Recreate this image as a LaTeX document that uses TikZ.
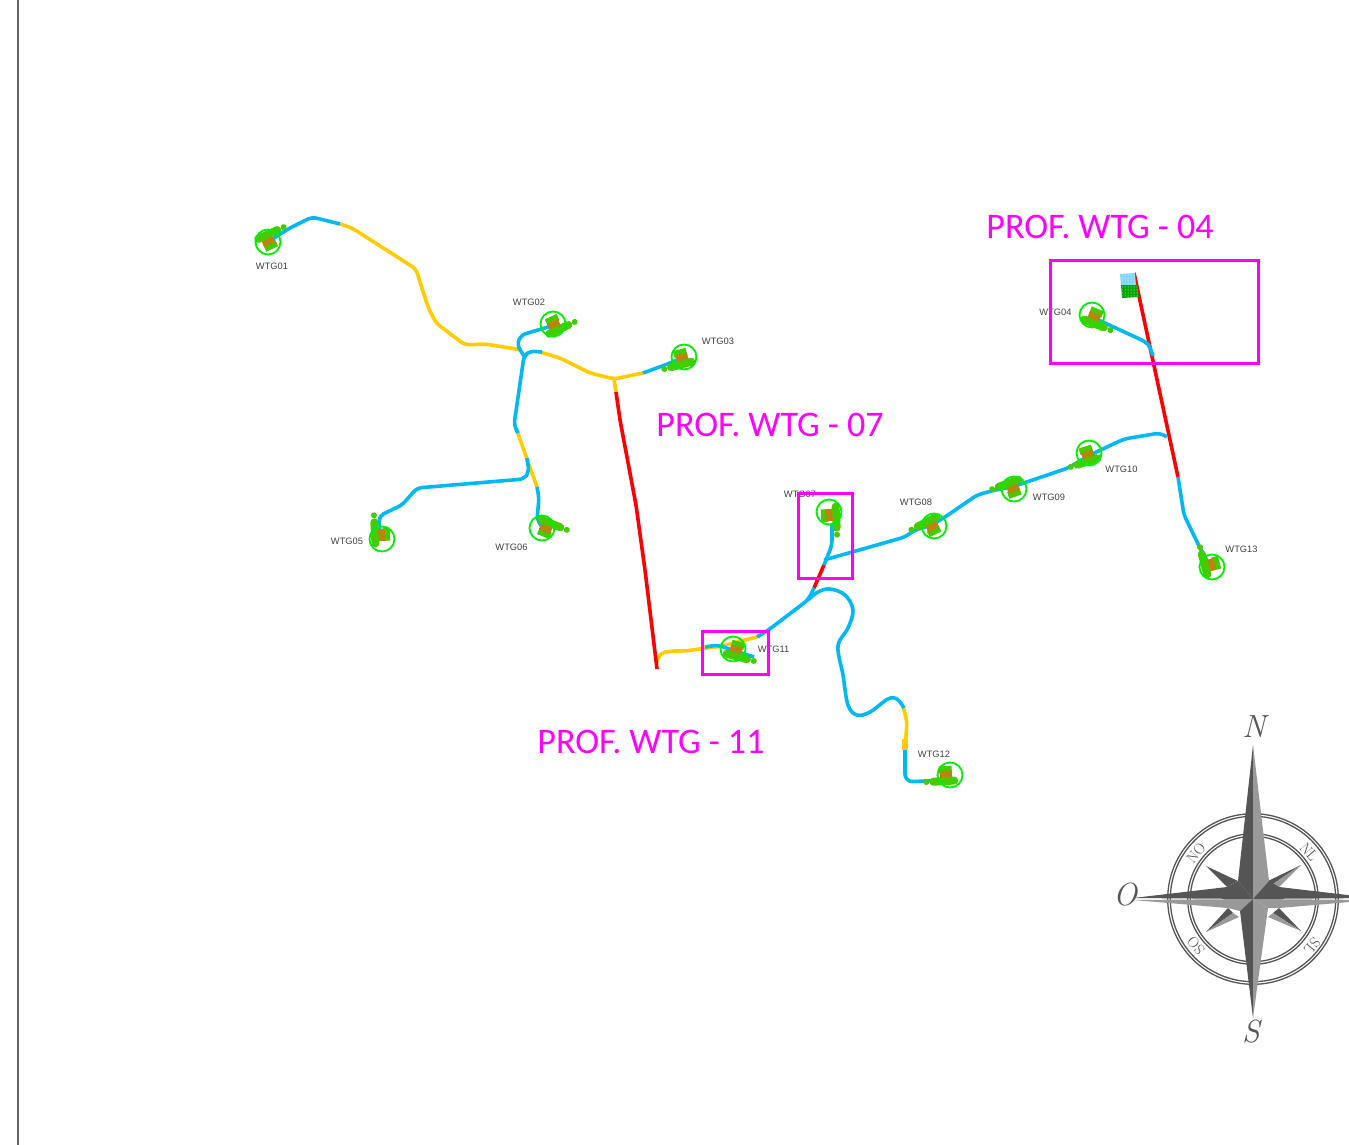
\documentclass[tikz,border=0pt]{standalone}
\usepackage{fontspec}
\setmainfont{Liberation Sans}
\newfontfamily\calibrifont{Carlito}
\newfontfamily\compassfont{Latin Modern Roman}
\usetikzlibrary{patterns}
\definecolor{cableblue}{HTML}{00B9F2}
\definecolor{cableyellow}{HTML}{FFCC00}
\definecolor{padgreen}{HTML}{44CC00}
\definecolor{padbrown}{HTML}{B8860B}
\definecolor{ringgreen}{HTML}{00EE00}
\definecolor{profmagenta}{HTML}{FF00FF}
\definecolor{compassdark}{HTML}{555555}
\definecolor{compasslight}{HTML}{999999}
\tikzset{
    cable/.style={line width=3.6pt, rounded corners=5pt, line join=round},
    bluecable/.style={cable, cableblue},
    yellowcable/.style={cable, cableyellow},
    redcable/.style={cable, red},
    profbox/.style={draw=profmagenta, line width=3pt},
    proflabel/.style={text=profmagenta, font=\calibrifont\fontsize{36}{38}\selectfont},
    wtglabel/.style={text=black!75, font=\fontsize{9.3}{11}\selectfont},
    windrose/.style={text=compassdark, font=\compassfont\itshape\fontsize{32}{34}\selectfont},
    roselabel/.style={text=compassdark, font=\compassfont\fontsize{15}{16}\selectfont}
}

\begin{document}
\begin{tikzpicture}[x=1pt, y=-1pt]
            \useasboundingbox (0,0) rectangle (1349,1145);

            % sheet edge
            \draw[gray!80!black, line width=1.5pt] (18,0)--(18,1145);

            % yellow runs
            \draw[yellowcable] (340,224)--(352,228)--(416,269)--(421,285)--(428,307)--(436,323)--(465,345)--(485,344)--(522,350);
            \draw[yellowcable] (540,352)--(560,358)--(590,373)--(614,379)--(643,373);
            \draw[yellowcable, rounded corners=0pt] (614,379)--(616,392);
            \draw[yellowcable] (657,662)--(660,653)--(672,651)--(685,651)--(722,646)--(745,640)--(757,637);
            \draw[yellowcable] (516,428)--(527,459)--(537,487);
            \draw[yellowcable] (903,706)--(907,722)--(905,750);
            \draw[cableyellow, line width=6pt] (905,739)--(905,750);

            % red runs
            \draw[redcable] (616,392)--(620,420)--(636,505)--(645,570)--(657,669);
            \draw[redcable] (814,588)--(824,565);
            \draw[redcable, rounded corners=0pt] (1134,273)--(1178,477);

            % blue runs
            \draw[bluecable] (268,242)--(288,229)--(312,217)--(340,224);
            \draw[bluecable] (643,373)--(665,365)--(682,358);
            \draw[bluecable] (555,325)--(521,335)--(517,345)--(524,356);
            \draw[bluecable] (542,352)--(530,351)--(524,356)--(514,425)--(518,433);
            \draw[bluecable] (380,540)--(379,516)--(402,505)--(417,488)--(524,479)--(529,472)--(527,458);
            \draw[bluecable] (537,487)--(539,498)--(537,520)--(543,528);
            \draw[bluecable] (705,647)--(718,645)--(735,651)--(754,657);
            \draw[bluecable] (757,637)--(767,631)--(808,600)--(814,588);
            \draw[cable, cableblue, rounded corners=0pt] plot[smooth, tension=0.6] coordinates {(808,600) (818,592) (830,589) (845,595) (853,610) (848,628) (838,646) (843,675) (848,705) (857,715) (870,712) (888,699) (897,699) (904,708)};
            \draw[bluecable, rounded corners=8pt] (905,750)--(905,782)--(945,780);
            \draw[bluecable] (824,565)--(832,545)--(832,525);
            \draw[bluecable] (824,560)--(905,537)--(915,530)--(932,525)--(948,515)--(977,495)--(995,490)--(1012,487)--(1068,468)--(1090,455)--(1124,439)--(1160,433)--(1167,437);
            \draw[bluecable] (1092,317)--(1146,342)--(1150,347)--(1153,356);
            \draw[bluecable] (1178,477)--(1184,515)--(1201,550)--(1210,566);

            % substation
            \fill[cyan!50] (1120,274)--(1135,273)--(1136,285)--(1121,285)--cycle;
            \fill[green!65!black] (1121,285)--(1137,285)--(1139,297)--(1122,298)--cycle;
            \fill[pattern=dots, pattern color=white] (1120,274)--(1135,273)--(1139,297)--(1122,298)--cycle;

            % turbine pads
            \foreach \u/\v/\a/\s in {
                    268/241/25/-1, 554/325/25/1, 682/358/195/-1, 1094/317/-22/1,
                    381/535/93/-1, 546/528/-22/-1, 830/515/-87/-1, 932/526/207/1,
                    1013/488/200/1, 1088/455/198/-1, 736/650/-15/1, 946/775/183/-1,
                    1211/565/105/-1}
                {
                    \begin{scope}[shift={(\u,\v)}, rotate=\a]
                        \fill[padgreen] (-6,-\s*9)--(7,-\s*9)--(7,-\s*2)--(-6,-\s*2)--cycle;
                        \draw[padgreen, line width=8pt, line cap=round] (-8,\s*6)--(13,\s*6);
                        \fill[padbrown] (-6,-\s*4)--(6,-\s*4)--(6,\s*2.5)--(-6,\s*2.5)--cycle;
                        \fill[padgreen] (20,\s*6) circle (3);
                    \end{scope}
                }

            % turbine rings
            \foreach \u/\v in {
                    268/242, 553/324, 684/357, 1092/315, 382/539, 542/528, 829/512,
                    934/526, 1014/489, 1089/453, 733/649, 950/775, 1212/567}
                {
                    \draw[ringgreen, line width=1.8pt] (\u,\v) circle (12.5);
                }

            % notations
            \node[wtglabel] (wtg01) at (272,266) {WTG01};
            \node[wtglabel] (wtg02) at (529,302) {WTG02};
            \node[wtglabel] (wtg03) at (718,341) {WTG03};
            \node[wtglabel] (wtg04) at (1055.5,312) {WTG04};
            \node[wtglabel] (wtg05) at (347,541) {WTG05};
            \node[wtglabel] (wtg06) at (511.5,547) {WTG06};
            \node[wtglabel] (wtg07) at (800,494) {WTG07};
            \node[wtglabel] (wtg08) at (916,502) {WTG08};
            \node[wtglabel] (wtg09) at (1049,497) {WTG09};
            \node[wtglabel] (wtg10) at (1121.5,469) {WTG10};
            \node[wtglabel] (wtg11) at (773.5,649) {WTG11};
            \node[wtglabel] (wtg12) at (934,754) {WTG12};
            \node[wtglabel] (wtg13) at (1241.5,549) {WTG13};

            % profile boxes
            \draw[profbox] (1050,260) rectangle (1258,363);
            \draw[profbox] (798,493) rectangle (852,578);
            \draw[profbox] (702,631) rectangle (768,674);

            \node[proflabel] (prof04) at (1100,227) {PROF. WTG - 04};
            \node[proflabel] (prof07) at (770,425) {PROF. WTG - 07};
            \node[proflabel] (prof11) at (651,742) {PROF. WTG - 11};

            % compass
            \begin{scope}[shift={(1253,899)}]
                \foreach \r in {85.3, 82.7, 65.3, 62.7}
                    {
                        \draw[compassdark, line width=1.3pt] (0,0) circle (\r);
                    }

                % diagonal points
                \fill[compassdark] (-15,-18)--(-47,-33)--(-26,-12)--cycle;
                \fill[compassdark] (15,-18)--(48,-34)--(17,-13)--cycle;
                \fill[compasslight] (17,-13)--(48,-34)--(26,-12)--cycle;
                \fill[compassdark] (26,9)--(48,32)--(20,14)--cycle;
                \fill[compasslight] (20,14)--(48,32)--(15,18)--cycle;
                \fill[compassdark] (-25,9)--(-47,33)--(-20,14)--cycle;
                \fill[compasslight] (-20,14)--(-47,33)--(-14,18)--cycle;

                % main points
                \fill[compassdark] (0,0)--(-15,-18)--(0,-154)--cycle;
                \fill[compasslight] (0,0)--(16,-18)--(0,-154)--cycle;
                \fill[compassdark] (0,0)--(16,-18)--(26,-12)--(120,-1)--cycle;
                \fill[compassdark] (0,0)--(-15,-18)--(-26,-12)--(-120,-1)--cycle;
                \fill[compasslight] (0,0)--(15,9)--(26,9)--(120,1)--cycle;
                \fill[compasslight] (0,0)--(-13,12)--(-25,9)--(-120,1)--cycle;
                \fill[compassdark] (0,0)--(-13,12)--(0,119)--cycle;
                \fill[compasslight] (0,0)--(15,9)--(0,119)--cycle;

                \node[windrose] (north) at (1,-172) {N};
                \node[windrose] (south) at (-2,133) {S};
                \node[windrose] (west) at (-128,-4) {O};

                \node[roselabel, rotate=51] (nw) at (-57,-46) {NO};
                \node[roselabel, rotate=-50] (ne) at (56,-47) {NL};
                \node[roselabel, rotate=130] (sw) at (-57,47) {SO};
                \node[roselabel, rotate=-130] (se) at (59,47) {SL};
            \end{scope}
        \end{tikzpicture}
\end{document}
